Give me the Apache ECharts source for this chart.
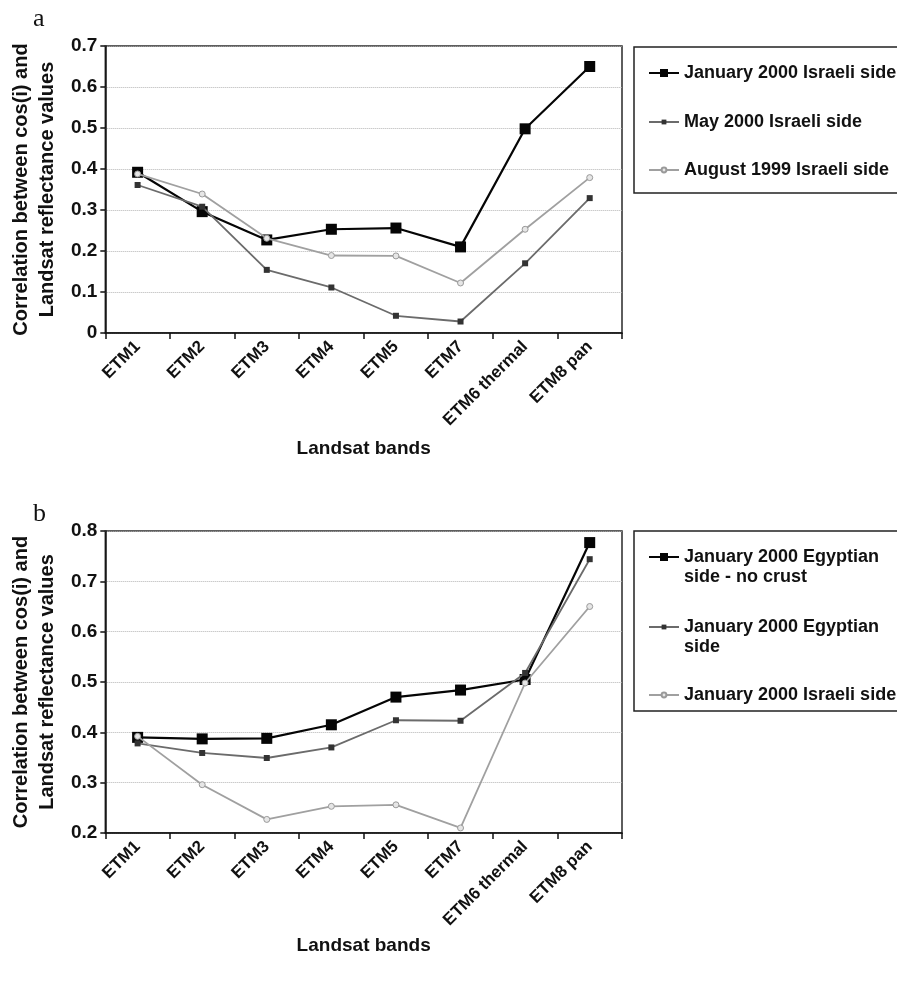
<!DOCTYPE html>
<html>
<head>
<meta charset="utf-8">
<script src="https://cdn.jsdelivr.net/npm/echarts@6/dist/echarts.min.js"></script>
<style>
  html, body { margin: 0; padding: 0; background: #fff; }
  #panelA { position: absolute; left: 0; top: 0; width: 897px; height: 490px; }
  #panelB { position: absolute; left: 0; top: 490px; width: 897px; height: 491px; }
</style>
</head>
<body>
<div id="panelA"></div>
<div id="panelB"></div>
<script>
// Landsat bands on the category axis
const bands = ['ETM1', 'ETM2', 'ETM3', 'ETM4', 'ETM5', 'ETM7', 'ETM6 thermal', 'ETM8 pan'];

// Panel a: Israeli side, three dates
const janIsraeli = [0.392, 0.296, 0.227, 0.253, 0.256, 0.210, 0.498, 0.650];
const mayIsraeli = [0.361, 0.308, 0.154, 0.111, 0.042, 0.028, 0.170, 0.329];
const augIsraeli = [0.388, 0.339, 0.231, 0.189, 0.188, 0.122, 0.253, 0.379];

// Panel b: January 2000, Egyptian vs Israeli side
const janEgyptNoCrust = [0.390, 0.387, 0.388, 0.415, 0.470, 0.484, 0.505, 0.777];
const janEgypt        = [0.378, 0.359, 0.349, 0.370, 0.424, 0.423, 0.518, 0.744];

// Series names as shown in the legends
const namesA = ['January 2000 Israeli side', 'May 2000 Israeli side', 'August 1999 Israeli side'];
const namesB = ['January 2000 Egyptian\nside - no crust', 'January 2000 Egyptian\nside', 'January 2000 Israeli side'];

// Value-axis ranges
const yRangeA = [0, 0.7];
const yRangeB = [0.2, 0.8];

const yTitle = 'Correlation between cos(i) and\nLandsat reflectance values';
const xTitle = 'Landsat bands';

const SANS = "'Liberation Sans', Arial, sans-serif";
const SERIF = "'Liberation Serif', 'Times New Roman', serif";

// Three line styles: heavy black squares, dark grey small squares, light grey open circles
const styles = [
  { symbol: 'rect', symbolSize: 11, itemStyle: { color: '#050505' }, lineStyle: { color: '#050505', width: 2.2 }, legendH: 10 },
  { symbol: 'rect', symbolSize: 6, itemStyle: { color: '#333333' }, lineStyle: { color: '#6b6b6b', width: 1.8 }, legendH: 6 },
  { symbol: 'circle', symbolSize: 6, itemStyle: { color: '#e6e6e6', borderColor: '#9a9a9a', borderWidth: 1 }, lineStyle: { color: '#a0a0a0', width: 1.8 }, legendH: 6 }
];

function buildOption(cfg) {
  const series = cfg.values.map((vals, i) => ({
    name: cfg.names[i],
    type: 'line',
    data: vals,
    symbol: styles[i].symbol,
    symbolSize: styles[i].symbolSize,
    showAllSymbol: true,
    itemStyle: styles[i].itemStyle,
    lineStyle: styles[i].lineStyle,
    emphasis: { disabled: true },
    z: 3 + i
  }));

  // One legend per entry so each can sit at its own height; wrapped entries
  // get a blank leading line so the icon lines up with their first line.
  const lh = 20;
  const legends = cfg.names.map((nm, i) => {
    const wrapped = nm.indexOf('\n') >= 0;
    return {
      data: [nm],
      left: 648,
      top: cfg.legendY[i] - (wrapped ? lh * 1.5 : lh / 2),
      padding: 0,
      selectedMode: false,
      itemWidth: 30,
      itemHeight: styles[i].legendH,
      formatter: wrapped ? (n => '\u00a0\n' + n) : (n => n),
      textStyle: {
        fontFamily: SANS, fontSize: 18, fontWeight: 'bold', color: '#111',
        lineHeight: lh
      }
    };
  });

  return {
    animation: false,
    backgroundColor: '#fff',
    textStyle: { fontFamily: SANS },
    grid: {
      left: 104, top: cfg.gridTop, width: 518, height: cfg.gridHeight,
      show: true, borderColor: '#2a2a2a', borderWidth: 1.5, backgroundColor: '#fff'
    },
    xAxis: {
      type: 'category',
      data: bands,
      boundaryGap: true,
      name: xTitle,
      nameLocation: 'middle',
      nameGap: cfg.xNameGap,
      nameTextStyle: { fontFamily: SANS, fontSize: 19, fontWeight: 'bold', color: '#111' },
      axisLine: { lineStyle: { color: '#111', width: 1.5 } },
      axisTick: { show: true, length: 6, lineStyle: { color: '#111', width: 1.5 } },
      axisLabel: {
        interval: 0, rotate: 45, margin: 11,
        fontFamily: SANS, fontSize: 17, fontWeight: 'bold', color: '#111'
      },
      splitLine: { show: false }
    },
    yAxis: {
      type: 'value',
      min: cfg.yRange[0], max: cfg.yRange[1], interval: 0.1,
      name: yTitle,
      nameLocation: 'middle',
      nameRotate: 90,
      nameGap: 44,
      nameTextStyle: { fontFamily: SANS, fontSize: 20, fontWeight: 'bold', color: '#111', lineHeight: 26 },
      axisLine: { show: true, lineStyle: { color: '#111', width: 1.5 } },
      axisTick: { show: true, length: 5, lineStyle: { color: '#111', width: 1.5 } },
      axisLabel: {
        margin: 8, fontFamily: SANS, fontSize: 19, fontWeight: 'bold', color: '#111',
        formatter: v => String(+v.toFixed(1))
      },
      splitLine: { show: true, lineStyle: { color: '#b4b4b4', type: 'dotted', width: 1 } }
    },
    legend: legends,
    graphic: [
      {
        type: 'text', left: 33, top: cfg.letterTop,
        style: { text: cfg.letter, font: '26px ' + SERIF, fill: '#111' }
      },
      {
        type: 'rect', z: -1,
        shape: { x: 634, y: cfg.boxY, width: 300, height: cfg.boxH },
        style: { fill: '#fff', stroke: '#222', lineWidth: 1.5 }
      }
    ],
    series: series
  };
}

const chartA = echarts.init(document.getElementById('panelA'), null, { renderer: 'canvas' });
chartA.setOption(buildOption({
  letter: 'a', letterTop: 6,
  gridTop: 46, gridHeight: 287,
  yRange: yRangeA,
  values: [janIsraeli, mayIsraeli, augIsraeli],
  names: namesA,
  legendY: [73, 122, 170],
  boxY: 47, boxH: 146,
  xNameGap: 106
}));

const chartB = echarts.init(document.getElementById('panelB'), null, { renderer: 'canvas' });
chartB.setOption(buildOption({
  letter: 'b', letterTop: 11,
  gridTop: 41, gridHeight: 302,
  yRange: yRangeB,
  values: [janEgyptNoCrust, janEgypt, janIsraeli],
  names: namesB,
  legendY: [67, 137, 205],
  boxY: 41, boxH: 180,
  xNameGap: 102
}));
</script>
</body>
</html>
